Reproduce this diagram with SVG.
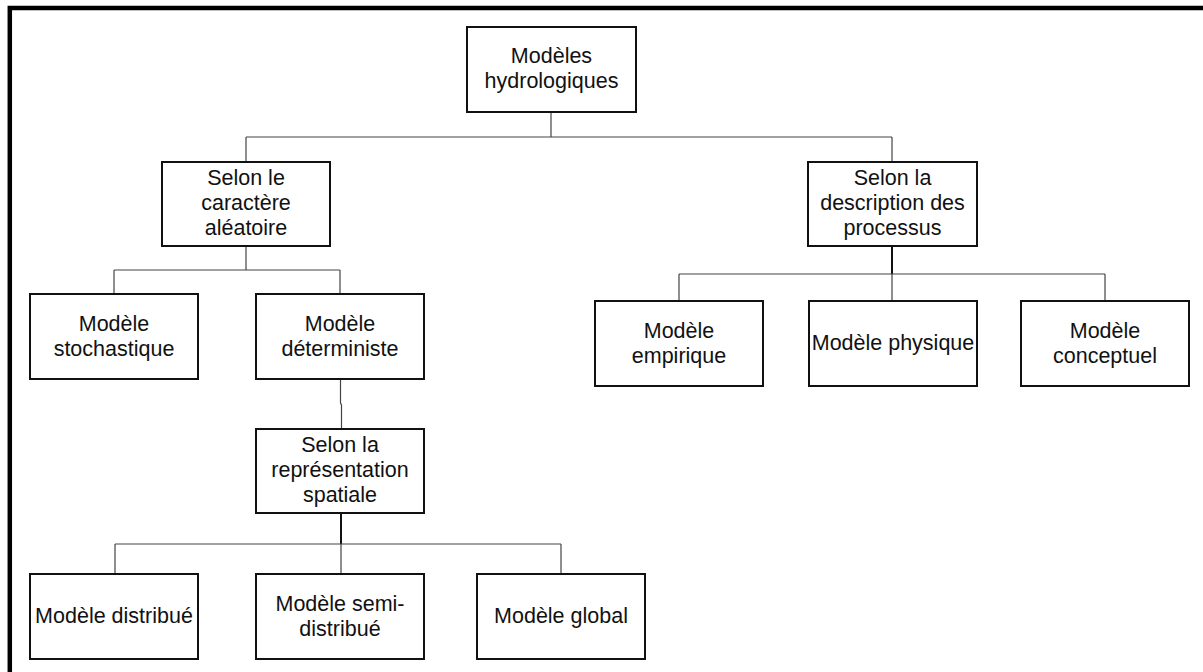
<svg xmlns="http://www.w3.org/2000/svg" width="1203" height="672" viewBox="0 0 1203 672">
<style>
.box{fill:#fff;stroke:#111;stroke-width:2}
.t{font-family:"Liberation Sans",Arial,sans-serif;font-size:21.5px;fill:#111;text-anchor:middle}
.c{fill:none;stroke:#444;stroke-width:1.2}
.ck{fill:none;stroke:#111;stroke-width:2}
.frame{fill:none;stroke:#000;stroke-width:4.5}
</style>
<rect width="1203" height="672" fill="#fff"/>
<path class="frame" d="M9.8 672 V8 H1203"/>
<g id="connectors">
<path class="c" d="M551 112 V137 M246 137 H892 M246 137 V162 M892 137 V162"/>
<path class="c" d="M246 246 V270 M114 270 H340 M114 270 V294 M340 270 V294"/>
<path class="c" d="M340.5 379 V403 L341.5 405 V429"/>
<path class="ck" d="M892 246 V274"/>
<path class="c" d="M679 274 H1105 M679 274 V301 M892 274 V301 M1105 274 V301"/>
<path class="ck" d="M341 513 V544"/>
<path class="c" d="M115 544 H561 M115 544 V574 M341 544 V574 M561 544 V574"/>
</g>
<g id="n0"><rect class="box" x="467" y="27" width="169" height="85"/><text class="t" x="551.5" y="63">Modèles</text><text class="t" x="551.5" y="88">hydrologiques</text></g>
<g id="n1"><rect class="box" x="162" y="162" width="168" height="84"/><text class="t" x="246" y="185">Selon le</text><text class="t" x="246" y="210">caractère</text><text class="t" x="246" y="235">aléatoire</text></g>
<g id="n2"><rect class="box" x="808" y="162" width="169" height="84"/><text class="t" x="892.5" y="185">Selon la</text><text class="t" x="892.5" y="210">description des</text><text class="t" x="892.5" y="235">processus</text></g>
<g id="n3"><rect class="box" x="30" y="294" width="168" height="85"/><text class="t" x="114" y="331">Modèle</text><text class="t" x="114" y="356">stochastique</text></g>
<g id="n4"><rect class="box" x="256" y="294" width="168" height="85"/><text class="t" x="340" y="331">Modèle</text><text class="t" x="340" y="356">déterministe</text></g>
<g id="n5"><rect class="box" x="595" y="301" width="168" height="85"/><text class="t" x="679" y="338">Modèle</text><text class="t" x="679" y="363">empirique</text></g>
<g id="n6"><rect class="box" x="809" y="301" width="168" height="85"/><text class="t" x="893" y="350">Modèle physique</text></g>
<g id="n7"><rect class="box" x="1021" y="301" width="168" height="85"/><text class="t" x="1105" y="338">Modèle</text><text class="t" x="1105" y="363">conceptuel</text></g>
<g id="n8"><rect class="box" x="256" y="429" width="168" height="84"/><text class="t" x="340" y="452">Selon la</text><text class="t" x="340" y="477">représentation</text><text class="t" x="340" y="502">spatiale</text></g>
<g id="n9"><rect class="box" x="30" y="574" width="168" height="85"/><text class="t" x="114" y="623">Modèle distribué</text></g>
<g id="n10"><rect class="box" x="256" y="574" width="168" height="85"/><text class="t" x="340" y="611">Modèle semi-</text><text class="t" x="340" y="636">distribué</text></g>
<g id="n11"><rect class="box" x="477" y="574" width="168" height="85"/><text class="t" x="561" y="623">Modèle global</text></g>
</svg>
